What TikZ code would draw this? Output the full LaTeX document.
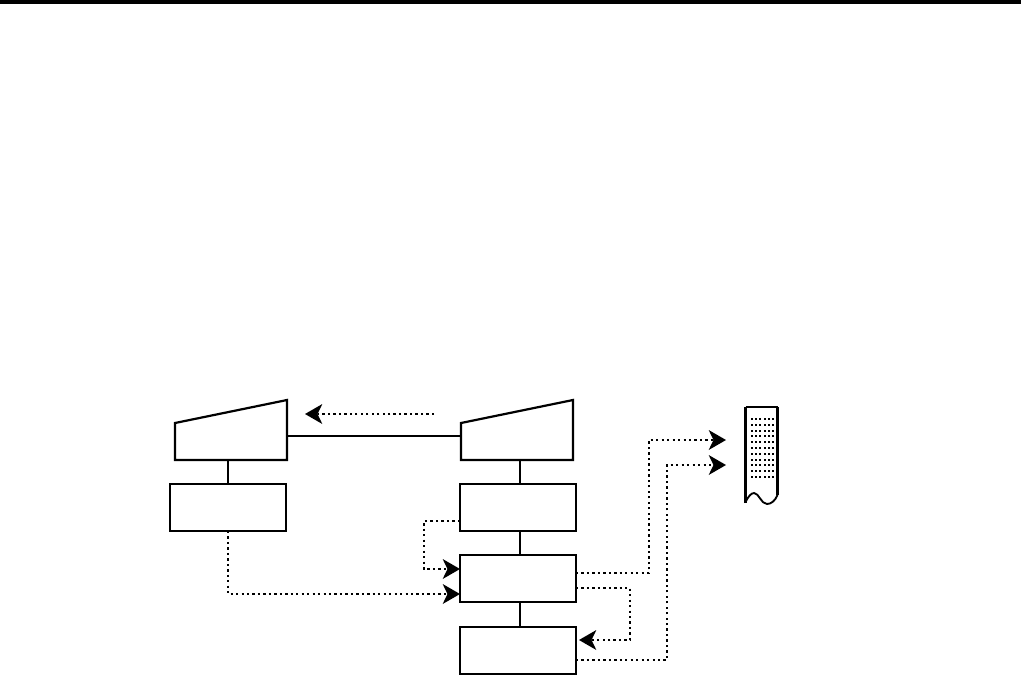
\documentclass[tikz,border=0pt]{standalone}
\usetikzlibrary{arrows.meta,calc}
\tikzset{
  box/.style={draw=black,line width=1.65pt,minimum width=87pt,minimum height=35.25pt,inner sep=0pt,outer sep=0pt,anchor=north west},
  bbox/.style={minimum width=84pt,minimum height=45pt,inner sep=0pt,outer sep=0pt,anchor=north west},
  trap/.style={draw=black,line width=1.65pt,line join=miter},
  solid link/.style={draw=black,line width=1.4pt},
  flow/.style={draw=black,line width=1.7pt,dash pattern=on 1.7pt off 2.4pt,-{Stealth[length=13pt,width=15pt,inset=3.6pt,line width=0pt]}},
}
\begin{document}
\begin{tikzpicture}[x=0.75pt,y=-0.75pt]
\useasboundingbox (0,0) rectangle (1021,676);
\fill[black] (0,0) rectangle (1021,4);
% terminals
\node[bbox] (t1) at (175,400) {};
\node[bbox] (t2) at (461,400) {};
\draw[trap] (t1.north east) -- (t1.south east) -- (t1.south west) -- ($(t1.north west)+(0,23)$) -- cycle;
\draw[trap] (t2.north east) -- (t2.south east) -- (t2.south west) -- ($(t2.north west)+(0,23)$) -- cycle;
% boxes
\node[box] (b1) at (170,484) {};
\node[box] (b2) at (460,484) {};
\node[box] (b3) at (460,555) {};
\node[box] (b4) at (460,627) {};
% solid links
\draw[solid link] ($(t1.north east)+(0,36)$) -- ($(t2.north west)+(0,36)$);
\draw[solid link] (t1.south -| b1.north) -- (b1.north);
\draw[solid link] ($(t2.south -| b2.north)+(2,0)$) -- ($(b2.north)+(2,0)$);
\draw[solid link] ($(b2.south)+(2,0)$) -- ($(b3.north)+(2,0)$);
\draw[solid link] ($(b3.south)+(2,0)$) -- ($(b4.north)+(2,0)$);
% flows
\coordinate (afrom) at (434,414);
\coordinate (ato) at (305,414);
\draw[flow] (afrom) -- (ato);
\draw[flow] (b1.south) -- (b1.south |- 0,594) -- (b3.west |- 0,594);
\draw[flow] (b2.west |- 0,521) -- (424,521) -- (424,569) -- (b3.west |- 0,569);
\coordinate (d1) at (726,440);
\coordinate (d2) at (726,465);
\draw[flow] (b3.east |- 0,573) -- (649,573) -- (649,440) -- (d1);
\draw[flow] (b3.east |- 0,588) -- (630,588) -- (630,640) -- (579,640);
\draw[flow] (b4.east |- 0,660) -- (667,660) -- (667,465) -- (d2);
% document
\draw[black,line width=1.8pt] (745.5,407) -- (777.5,407);
\draw[black,line width=1.7pt] (745.5,503) -- (745.5,407) (777.5,407) -- (777.5,495);
\draw[black,line width=1.4pt] (745.5,502) .. controls (748,497) and (751,493) .. (754,493) .. controls (759,493) and (761,504) .. (767,504) .. controls (771,504) and (775,501) .. (777.5,495);
\foreach \r in {0,...,10}
  \foreach \c in {0,...,5}
    \fill[black] ({751+\c*4.2},{418+\r*5.8}) rectangle +(2,2);
\end{tikzpicture}
\end{document}
